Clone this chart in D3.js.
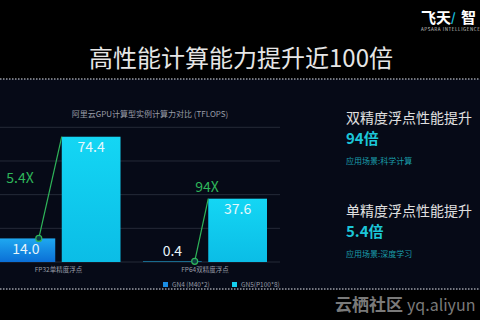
<!DOCTYPE html>
<html><head><meta charset="utf-8">
<script src="https://cdn.jsdelivr.net/npm/d3@7/dist/d3.min.js"></script>
<style>
html,body{margin:0;padding:0;background:#000;}
svg{display:block;}
text{font-family:"Noto Sans CJK SC","Noto Sans",sans-serif;}
</style></head>
<body>
<script>
const categories = ["FP32单精度浮点", "FP64双精度浮点"];
const seriesNames = ["GN4 (M40*2)", "GN5(P100*8)"];
const gn4Values = [14.0, 0.4];
const gn5Values = [74.4, 37.6];
const ratioLabels = ["5.4X", "94X"];
const yTicks = [0, 20, 40, 60, 80];
const dotFractions = [0.72, 0.88];

const W = 480, H = 320;
const svg = d3.select("body").append("svg").attr("width", W).attr("height", H);

const defs = svg.append("defs");
const g1 = defs.append("linearGradient").attr("id","gBlue").attr("x1",0).attr("x2",0).attr("y1",0).attr("y2",1);
g1.append("stop").attr("offset","0%").attr("stop-color","#1fa8f0");
g1.append("stop").attr("offset","100%").attr("stop-color","#0b6fd6");
const g2 = defs.append("linearGradient").attr("id","gCyan").attr("x1",0).attr("x2",0).attr("y1",0).attr("y2",1);
g2.append("stop").attr("offset","0%").attr("stop-color","#14d6f4");
g2.append("stop").attr("offset","100%").attr("stop-color","#0bbde6");

// backgrounds
svg.append("rect").attr("width",W).attr("height",H).attr("fill","#000");
svg.append("rect").attr("x",0).attr("y",79).attr("width",W).attr("height",211).attr("fill","#060a17");
[79, 289].forEach(y => svg.append("line").attr("x1",0).attr("x2",W).attr("y1",y).attr("y2",y)
  .attr("stroke","#9a9ca4").attr("stroke-width",1.5).attr("stroke-dasharray","1.5,1.5"));

// title
svg.append("text").attr("x",241).attr("y",67).attr("text-anchor","middle")
  .attr("font-size",24).attr("fill","#e6e6e6").text("高性能计算能力提升近100倍");

// logo
svg.append("text").attr("x",421).attr("y",23).attr("font-size",15).attr("font-weight","bold")
  .attr("fill","#fff").text("飞天");
svg.append("text").attr("x",451).attr("y",22).attr("font-size",12).attr("font-weight","bold")
  .attr("fill","#19c3e0").text("/");
svg.append("text").attr("x",461).attr("y",23).attr("font-size",15).attr("font-weight","bold")
  .attr("fill","#fff").text("智");
svg.append("text").attr("x",421).attr("y",31).attr("font-size",4.5).attr("fill","#ccc")
  .attr("letter-spacing",0.6).text("APSARA INTELLIGENCE");

// scales
const y = d3.scaleLinear().domain([0, 80]).range([262, 127.3]);
const xGroup = d3.scalePoint().domain(categories).range([58.5, 205]);
const xInner = d3.scaleBand().domain(seriesNames).range([-62, 62]).paddingInner(0.1);

// gridlines
svg.append("g").selectAll("line").data(yTicks).join("line")
  .attr("x1",0).attr("x2",280).attr("y1",d=>y(d)).attr("y2",d=>y(d))
  .attr("stroke","#252a38").attr("stroke-width",1);

// chart subtitle
svg.append("text").attr("x",150).attr("y",117).attr("text-anchor","middle")
  .attr("font-size",8).attr("fill","#9a9ea8").text("阿里云GPU计算型实例计算力对比 (TFLOPS)");

const rows = categories.map((c,i)=>({cat:c, gn4:gn4Values[i], gn5:gn5Values[i], ratio:ratioLabels[i], frac:dotFractions[i]}));
const bw = xInner.bandwidth();

// bars
const gBars = svg.append("g");
gBars.selectAll("rect.gn4").data(rows).join("rect").attr("class","gn4")
  .attr("x", d=>xGroup(d.cat)+xInner(seriesNames[0])).attr("width", bw)
  .attr("y", d=>Math.min(y(d.gn4), y(0)-0.8)).attr("height", d=>Math.max(y(0)-y(d.gn4), 0.8))
  .attr("fill", d=> d.gn4 < 2 ? "#1a7fa8" : "url(#gBlue)");
gBars.selectAll("rect.gn5").data(rows).join("rect").attr("class","gn5")
  .attr("x", d=>xGroup(d.cat)+xInner(seriesNames[1])).attr("width", bw)
  .attr("y", d=>y(d.gn5)).attr("height", d=>y(0)-y(d.gn5))
  .attr("fill","url(#gCyan)");

// value labels
gBars.selectAll("text.v4").data(rows).join("text").attr("class","v4")
  .attr("x", d=>xGroup(d.cat)+xInner(seriesNames[0])+bw/2)
  .attr("y", d=> d.gn4 < 5 ? y(d.gn4)-5 : y(d.gn4)+16)
  .attr("text-anchor","middle").attr("font-size",14).attr("fill","#e6f4fa")
  .text(d=>d.gn4.toFixed(1));
gBars.selectAll("text.v5").data(rows).join("text").attr("class","v5")
  .attr("x", d=>xGroup(d.cat)+xInner(seriesNames[1])+bw/2)
  .attr("y", d=>y(d.gn5)+15)
  .attr("text-anchor","middle").attr("font-size",14).attr("fill","#e6f8fc")
  .text(d=>d.gn5.toFixed(1));

// connector lines
const gLines = svg.append("g");
gLines.selectAll("line").data(rows).join("line")
  .attr("x1", d=>xGroup(d.cat)+xInner(seriesNames[0])+bw*d.frac)
  .attr("y1", d=>y(d.gn4))
  .attr("x2", d=>xGroup(d.cat)+xInner(seriesNames[1]))
  .attr("y2", d=>y(d.gn5))
  .attr("stroke","#2fb65a").attr("stroke-width",1.2);
gLines.selectAll("circle").data(rows).join("circle")
  .attr("cx", d=>xGroup(d.cat)+xInner(seriesNames[0])+bw*d.frac)
  .attr("cy", d=>y(d.gn4)).attr("r",3)
  .attr("fill","#0d3d44").attr("stroke","#2fb65a").attr("stroke-width",1.2);
gLines.selectAll("text").data(rows).join("text")
  .attr("x", (d,i)=> i===0 ? 20 : 207)
  .attr("y", (d,i)=> i===0 ? 183 : 192)
  .attr("text-anchor","middle").attr("font-size",14).attr("fill","#2fb65a")
  .text(d=>d.ratio);

// category labels
svg.append("g").selectAll("text").data(categories).join("text")
  .attr("x", d=>xGroup(d)).attr("y", 272).attr("text-anchor","middle")
  .attr("font-size",6.5).attr("fill","#9a9ea8").text(d=>d);

// legend
const legendColors = ["#1a8ee6", "#14d0f0"];
const legX = [163, 232];
const leg = svg.append("g").selectAll("g").data(seriesNames).join("g")
  .attr("transform",(d,i)=>`translate(${legX[i]},282)`);
leg.append("rect").attr("width",5).attr("height",5).attr("fill",(d,i)=>legendColors[i]);
leg.append("text").attr("x",9).attr("y",5).attr("font-size",6.5).attr("fill","#9a9ea8").text(d=>d);

// right panel
const panel = [
  {title:"双精度浮点性能提升", val:"94倍", app:"应用场景:科学计算", y:118},
  {title:"单精度浮点性能提升", val:"5.4倍", app:"应用场景:深度学习", y:211}
];
const pg = svg.append("g").selectAll("g").data(panel).join("g")
  .attr("transform", d=>`translate(346,${d.y})`);
pg.append("text").attr("y",5).attr("font-size",14).attr("fill","#e0e0e0").text(d=>d.title);
pg.append("text").attr("y",26).attr("font-size",15).attr("font-weight","bold").attr("fill","#1cc6d8").text(d=>d.val);
pg.append("text").attr("y",46).attr("font-size",8).attr("fill","#1a9eaa").text(d=>d.app);

// watermark
svg.append("text").attr("x",335).attr("y",311).attr("font-size",17).attr("font-weight","bold")
  .attr("fill","#7a7a7a").text("云栖社区");
svg.append("text").attr("x",407).attr("y",311).attr("font-size",16)
  .attr("fill","#7a7a7a").text("yq.aliyun");
</script>
</body></html>
